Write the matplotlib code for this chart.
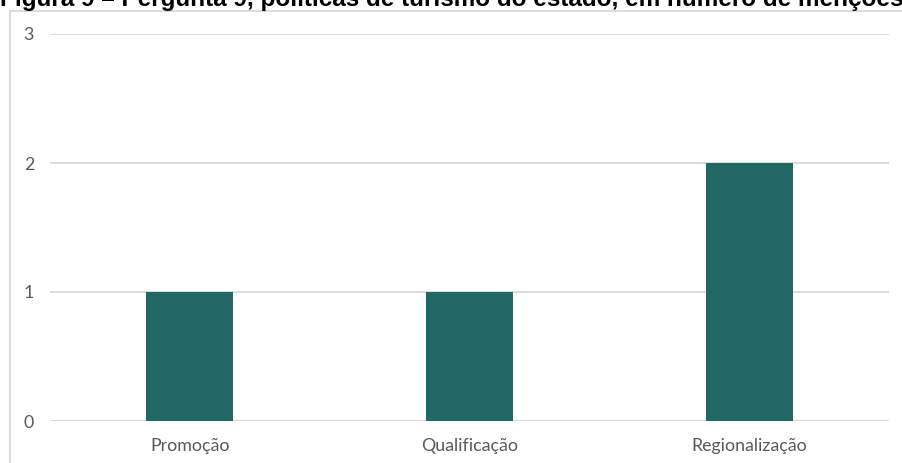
import matplotlib
matplotlib.use("Agg")
import matplotlib.pyplot as plt
from matplotlib.lines import Line2D

categories = ["Promoção", "Qualificação", "Regionalização"]
mentions = [1, 1, 2]
y_ticks = [0, 1, 2, 3]
title = "Figura 9 – Pergunta 9, políticas de turismo do estado, em número de menções"

W, H = 903, 463
fig = plt.figure(figsize=(W / 100, H / 100), dpi=100)
fig.patch.set_facecolor("white")

# plot area in pixels: x 50..889, y 34..421
ax = fig.add_axes([50 / W, 1 - 421 / H, 839 / W, 387 / H])
ax.bar(range(len(categories)), mentions, width=0.31, color="#216864", zorder=3)
ax.set_xlim(-0.5, len(categories) - 0.5)
ax.set_ylim(0, 3)
ax.set_yticks(y_ticks)
ax.set_xticks(range(len(categories)))
ax.set_xticklabels(categories)
for s in ax.spines.values():
    s.set_visible(False)
ax.grid(True, axis="y", color="#d9d9d9", linewidth=1.3, zorder=0)
ax.tick_params(length=0, labelsize=12.8, labelcolor="#595959")
ax.tick_params(axis="y", pad=11.5)
ax.tick_params(axis="x", pad=12)
for lbl in ax.get_xticklabels() + ax.get_yticklabels():
    lbl.set_fontfamily("Lato")

# chart frame (left and top edges visible)
fig.add_artist(Line2D([10 / W, 10 / W], [0, 1 - 11 / H], transform=fig.transFigure,
                      color="#d9d9d9", linewidth=1.3))
fig.add_artist(Line2D([10 / W, 1], [1 - 11 / H, 1 - 11 / H], transform=fig.transFigure,
                      color="#d9d9d9", linewidth=1.3))

fig.text(0, 1 - 6.3 / H, title, fontsize=17.5, fontweight="bold",
         family="Liberation Sans", ha="left", va="baseline", color="black")

fig.savefig("out.png", dpi=100)
